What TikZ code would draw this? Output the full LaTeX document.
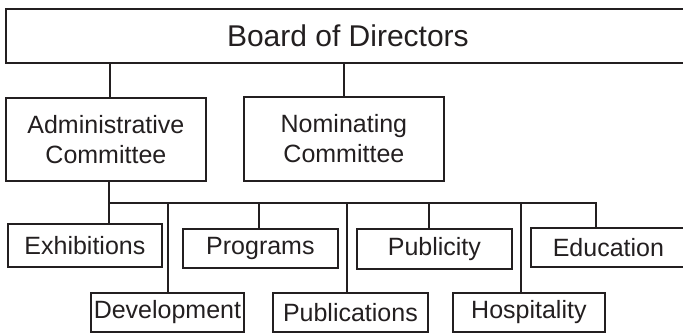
\documentclass[tikz,border=0pt]{standalone}
\usepackage{fontspec}
\setmainfont{Liberation Sans}
\definecolor{ink}{RGB}{35,31,32}
\tikzset{
  box/.style={draw=ink, line width=1.8pt, rectangle, inner sep=0pt, anchor=north west, align=center, text=ink,
    font=\fontsize{25}{30}\selectfont},
  conn/.style={draw=ink, line width=1.8pt},
}
\begin{document}
\begin{tikzpicture}[x=1pt,y=1pt]
\useasboundingbox (0,0) rectangle (683,-333);
\clip (0,0) rectangle (683,-333);
\fill[white] (0,0) rectangle (683,-333);
% top level
\node[box, minimum width=684, minimum height=54, font=\fontsize{30}{36}\selectfont] (board) at (5,-8) {Board of Directors};
\node[box, minimum width=200, minimum height=83] (admin) at (5,-97) {Administrative\\Committee};
\node[box, minimum width=200, minimum height=84] (nom) at (243,-96) {Nominating\\Committee};
% upper row
\node[box, minimum width=154, minimum height=43] (exh) at (7,-223) {Exhibitions};
\node[box, minimum width=155, minimum height=39] (prog) at (182,-228) {Programs};
\node[box, minimum width=155, minimum height=40] (publ) at (356,-228) {Publicity};
\node[box, minimum width=155, minimum height=39] (edu) at (530,-227) {Education};
% lower row
\node[box, minimum width=153, minimum height=39] (dev) at (90,-292) {Development};
\node[box, minimum width=155, minimum height=39] (pubs) at (272,-292) {Publications};
\node[box, minimum width=152, minimum height=39] (hosp) at (452,-292) {Hospitality};
% bus
\coordinate (busL) at (109,-203);
\coordinate (busR) at (596,-203);
% connectors
\draw[conn] (board.south -| 110,0) -- (admin.north -| 110,0);
\draw[conn] (board.south -| 344,0) -- (nom.north -| 344,0);
\draw[conn] (admin.south -| busL) -- (exh.north -| busL);
\draw[conn] (busL) -- (busR) -- (edu.north -| busR);
\draw[conn] (busL -| 168,0) -- (dev.north -| 168,0);
\draw[conn] (busL -| 259,0) -- (prog.north -| 259,0);
\draw[conn] (busL -| 347,0) -- (pubs.north -| 347,0);
\draw[conn] (busL -| 429,0) -- (publ.north -| 429,0);
\draw[conn] (busL -| 521,0) -- (hosp.north -| 521,0);
\end{tikzpicture}
\end{document}
